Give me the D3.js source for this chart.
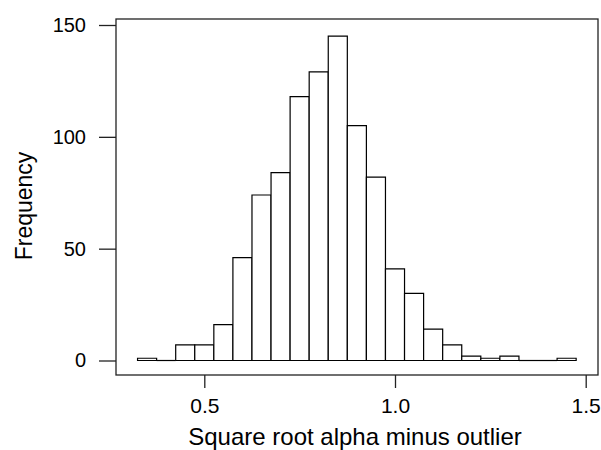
<!DOCTYPE html>
<html>
<head>
<meta charset="utf-8">
<script src="https://cdn.jsdelivr.net/npm/d3@7"></script>
<style>
  body { margin: 0; background: #fff; }
  text { font-family: Arial, "Liberation Sans", sans-serif; fill: #000; }
</style>
</head>
<body>
<div id="chart"></div>
<script>
// histogram midpoints (bin width 0.05) and counts
var midpoints = [0.35, 0.40, 0.45, 0.50, 0.55, 0.60, 0.65, 0.70, 0.75, 0.80, 0.85, 0.90,
                 0.95, 1.00, 1.05, 1.10, 1.15, 1.20, 1.25, 1.30, 1.35, 1.40, 1.45];
var counts = [1, 0, 7, 7, 16, 46, 74, 84, 118, 129, 145, 105,
              82, 41, 30, 14, 7, 2, 1, 2, 0, 0, 1];
var binWidth = 0.05;
var xTicks = [0.5, 1.0, 1.5];
var xTickLabels = ["0.5", "1.0", "1.5"];
var yTicks = [0, 50, 100, 150];
var xTitle = "Square root alpha minus outlier";
var yTitle = "Frequency";

var width = 601, height = 450;
var frame = {left: 116, top: 19, right: 598, bottom: 375};

var x = d3.scaleLinear().domain([0.5, 1.5]).range([204.3, 585.7]);
var y = d3.scaleLinear().domain([0, 150]).range([360.5, 25]);

var svg = d3.select("#chart").append("svg")
  .attr("width", width)
  .attr("height", height);

// bars drawn as paths so empty bins still show a base line
svg.append("g").selectAll("path")
  .data(midpoints.map(function(m, i) { return {mid: m, n: counts[i]}; }))
  .enter().append("path")
  .attr("d", function(d) {
    var x0 = x(d.mid - binWidth / 2), x1 = x(d.mid + binWidth / 2);
    var y0 = y(0), y1 = y(d.n);
    var p = d3.path();
    if (d.n === 0) {
      p.moveTo(x0, y0); p.lineTo(x1, y0);
    } else {
      p.moveTo(x0, y0); p.lineTo(x0, y1); p.lineTo(x1, y1); p.lineTo(x1, y0); p.closePath();
    }
    return p.toString();
  })
  .style("fill", "#fff")
  .style("stroke", "#000")
  .style("stroke-width", 1.2);

// frame
svg.append("rect")
  .attr("x", frame.left).attr("y", frame.top)
  .attr("width", frame.right - frame.left).attr("height", frame.bottom - frame.top)
  .style("fill", "none").style("stroke", "#222").style("stroke-width", 1.3);

// y axis
var yAxis = d3.axisLeft(y).tickValues(yTicks).tickSize(17).tickPadding(13).tickSizeOuter(0);
var gy = svg.append("g").attr("transform", "translate(" + frame.left + ",0)").call(yAxis);
gy.select(".domain").remove();
gy.selectAll("line").style("stroke", "#222").style("stroke-width", 1.3);
gy.selectAll("text").style("font-size", "20px").style("font-family", "Arial, 'Liberation Sans', sans-serif");

// x axis
var xAxis = d3.axisBottom(x).tickValues(xTicks)
  .tickFormat(function(d, i) { return xTickLabels[i]; })
  .tickSize(13).tickPadding(10).tickSizeOuter(0);
var gx = svg.append("g").attr("transform", "translate(0," + frame.bottom + ")").call(xAxis);
gx.select(".domain").remove();
gx.selectAll("line").style("stroke", "#222").style("stroke-width", 1.3);
gx.selectAll("text").style("font-size", "21px").style("font-family", "Arial, 'Liberation Sans', sans-serif");

// titles
svg.append("text")
  .attr("x", 355).attr("y", 445)
  .attr("text-anchor", "middle")
  .style("font-size", "24px")
  .text(xTitle);

svg.append("text")
  .attr("transform", "translate(32,206) rotate(-90)")
  .attr("text-anchor", "middle")
  .style("font-size", "23px")
  .text(yTitle);
</script>
</body>
</html>
